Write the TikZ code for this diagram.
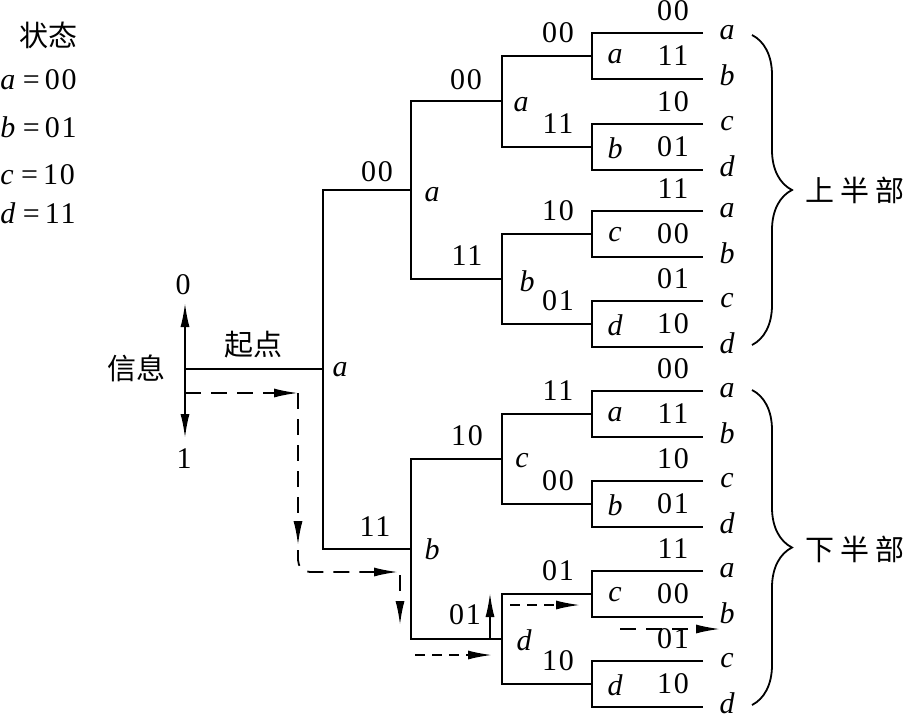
\documentclass[tikz,border=0pt]{standalone}
\usepackage{fontspec}
\setmainfont{Liberation Serif}
\newfontfamily\bitfont{Liberation Serif}[LetterSpace=6]
\newfontfamily\zhfont{Noto Sans CJK SC}
\usetikzlibrary{arrows.meta,decorations.pathreplacing}
\tikzset{>={Latex[length=12pt,width=4.5pt]}}
\tikzstyle{tline}=[line width=0.9pt]
\tikzstyle{dline}=[line width=0.9pt,dash pattern=on 8pt off 5pt]
\tikzstyle{sdline}=[line width=0.9pt,dash pattern=on 5pt off 3.5pt]
\tikzstyle{bit}=[inner sep=1pt,font=\bitfont\fontsize{15}{17}\selectfont]
\tikzstyle{st}=[inner sep=1pt,font=\fontsize{15}{17}\selectfont\itshape]
\tikzstyle{zh}=[inner sep=1pt,font=\zhfont\fontsize{14.5}{17}\selectfont]
\tikzstyle{legend}=[anchor=west,inner sep=0pt,font=\fontsize{15}{17}\selectfont]
\tikzstyle{hbrace}=[tline,decorate,decoration={brace,amplitude=20pt}]

\begin{document}
\begin{tikzpicture}[x=0.5pt,y=-0.5pt]
  \useasboundingbox (0,0) rectangle (905,718);
  \coordinate (I) at (185,369);  % start point
  \coordinate (I0) at (185,303);
  \coordinate (I1) at (185,438);
  \coordinate (S) at (323,369);  % state a at t=0
  \coordinate (A) at (411,190);
  \coordinate (B) at (411,549);
  \coordinate (AA) at (502,101);
  \coordinate (AB) at (502,279);
  \coordinate (BC) at (502,459);
  \coordinate (BD) at (502,639);

  % LEGEND
  \node[zh] (title) at (48,35) {状态};
  \node[legend] (la) at (0,80) {\textit{a} =\,\bitfont 00};
  \node[legend] (lb) at (0,127) {\textit{b} =\,\bitfont 01};
  \node[legend] (lc) at (0,175) {\textit{c} =\,\bitfont 10};
  \node[legend] (ld) at (0,213) {\textit{d} =\,\bitfont 11};

  % INPUT
  \node[zh] (info) at (136,368) {信息};
  \node[zh] (start) at (253,345) {起点};
  \node[bit] (zero) at (183,285) {0};
  \node[bit] (one) at (184,459) {1};
  \draw[tline,->] (I) -- (I0);
  \draw[tline,->] (I) -- (I1);

  % TREE
  \draw[tline] (I) -- (S);
  \draw[tline] (S) |- (A);
  \draw[tline] (S) |- (B);
  \foreach \p/\q in {A/AA,A/AB,B/BC,B/BD}
    \draw[tline] (\p) |- (\q);
  \node[st] (sS) at (340,370) {a};
  \node[bit] (bA) at (377,172) {00};
  \node[st] (sA) at (432,195) {a};
  \node[bit] (bB) at (375,527) {11};
  \node[st] (sB) at (432,549) {b};
  \node[bit] (bAA) at (466,80) {00};
  \node[st] (sAA) at (521,105) {a};
  \node[bit] (bAB) at (467,256) {11};
  \node[st] (sAB) at (527,281) {b};
  \node[bit] (bBC) at (467,436) {10};
  \node[st] (sBC) at (522,461) {c};
  \node[bit] (bBD) at (465,615) {01};
  \node[st] (sBD) at (524,640) {d};

  % LAST STAGE
  \foreach \y/\s/\u/\l/\b/\p/\m/\n [count=\i] in {
      56/a/00/11/00/AA/a/b, 147/b/10/01/11/AA/c/d,
      234/c/11/00/10/AB/a/b, 324/d/01/10/01/AB/c/d,
      414/a/00/11/11/BC/a/b, 504/b/10/01/00/BC/c/d,
      594/c/11/00/01/BD/a/b, 684/d/01/10/10/BD/c/d}{
    \coordinate (T\i) at (592,\y);
    \coordinate (U\i) at (703,\y-23);
    \coordinate (L\i) at (703,\y+23);
    \draw[tline] (\p) |- (T\i);
    \draw[tline] (U\i) -| (T\i) |- (L\i);
    \node[bit] (br\i) at (558,\y-23) {\b};
    \node[st] (s\i) at (615,\y+1) {\s};
    \node[bit] (o\i) at (673,\y) {\l};
    \node[bit] (ou\i) at (673,\y-45) {\u};
    \node[st] (m\i) at (727,\y-23) {\m};
    \node[st] (n\i) at (727,\y+19) {\n};
  }

  % PATH
  \coordinate (P0) at (185,393);
  \coordinate (P1) at (298,393);
  \coordinate (P2) at (298,545);
  \coordinate (P3) at (298,550);
  \coordinate (P4) at (398,572);
  \coordinate (P5) at (400,575);
  \coordinate (P6) at (400,625);
  \draw[dline,->] (P0) -- (P1);
  \draw[dline,->] (P1) -- (P2);
  \draw[dline,->,rounded corners=6pt] (P3) |- (P4);
  \draw[dline,->] (P5) -- (P6);
  \coordinate (Q0) at (415,655);
  \coordinate (Q1) at (492,655);
  \coordinate (Q2) at (490,638);
  \coordinate (Q3) at (490,593);
  \coordinate (Q4) at (510,605);
  \coordinate (Q5) at (580,605);
  \coordinate (Q6) at (620,629);
  \coordinate (Q7) at (720,629);
  \draw[sdline,->] (Q0) -- (Q1);
  \draw[tline,->] (Q2) -- (Q3);
  \draw[sdline,->] (Q4) -- (Q5);
  \draw[dline,->] (Q6) -- (Q7);

  % HALVES
  \coordinate (H0) at (752,35);
  \coordinate (H1) at (752,345);
  \coordinate (H2) at (752,390);
  \coordinate (H3) at (752,705);
  \draw[hbrace] (H0) -- (H1);
  \draw[hbrace] (H2) -- (H3);
  \node[zh] (upper) at (855,190) {上\kern3pt 半\kern3pt 部};
  \node[zh] (lower) at (855,549) {下\kern3pt 半\kern3pt 部};
\end{tikzpicture}
\end{document}
